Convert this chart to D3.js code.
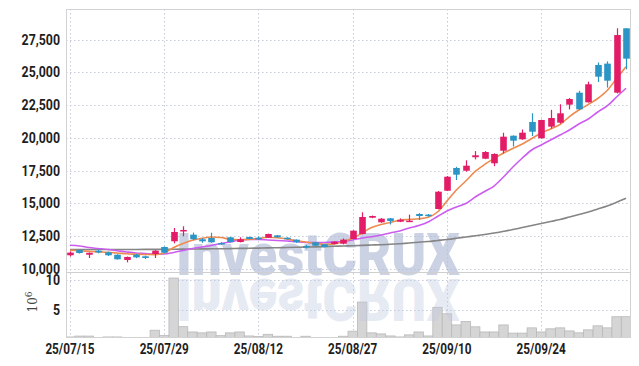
<!DOCTYPE html>
<html>
<head>
<meta charset="utf-8">
<script src="https://cdn.jsdelivr.net/npm/d3@7"></script>
<style>
  body { margin: 0; background: #fff; }
  svg { display: block; }
  text { font-family: Roboto, "DejaVu Sans", sans-serif; }
</style>
</head>
<body>
<div id="chart"></div>
<script>
// trading days shown on the chart
var dates = ["25/07/15","25/07/16","25/07/17","25/07/18","25/07/21","25/07/22","25/07/23","25/07/24","25/07/25","25/07/28",
  "25/07/29","25/07/30","25/07/31","25/08/01","25/08/04","25/08/05","25/08/06","25/08/07","25/08/08","25/08/11",
  "25/08/12","25/08/13","25/08/14","25/08/18","25/08/19","25/08/20","25/08/21","25/08/22","25/08/25","25/08/26",
  "25/08/27","25/08/28","25/08/29","25/09/01","25/09/02","25/09/03","25/09/04","25/09/05","25/09/08","25/09/09",
  "25/09/10","25/09/11","25/09/12","25/09/15","25/09/16","25/09/17","25/09/18","25/09/19","25/09/22","25/09/23",
  "25/09/24","25/09/25","25/09/26","25/09/29","25/09/30","25/10/01","25/10/02","25/10/10","25/10/13","25/10/14"];

var opens  = [11050,11450,11090,11400,11270,11090,10690,11090,10970,11145,
  11680,12115,12880,12620,12270,12366,11985,12420,12060,12440,
  12390,12390,12570,12390,12240,11760,12040,11885,11910,11930,
  12290,12670,13915,13565,13870,13610,13640,14200,14150,14580,
  15975,17710,17500,18530,18420,18070,19030,20175,19900,21220,
  19980,20865,21170,22545,23460,22725,25575,25675,23460,28375];
var highs  = [11350,11500,11260,11480,11320,11130,10950,11150,11020,11440,
  11720,13130,13260,12780,12350,12770,12050,12450,12420,12480,
  12480,12700,12600,12420,12260,11840,12070,11920,12110,12330,
  12960,14330,14080,13880,13900,13860,14150,14260,14200,15950,
  17100,17800,18300,19000,19000,18830,20400,20200,20650,21890,
  21400,22150,22575,23050,23600,24300,25760,25850,28375,28375];
var lows   = [10950,11180,10840,11200,10990,10720,10510,10830,10760,10840,
  11200,11960,12500,12200,12000,12000,11850,12030,12030,12260,
  12230,12370,12400,12250,11990,11560,11740,11650,11880,11880,
  12270,12640,13880,13530,13400,13580,13600,13740,14000,14550,
  15950,16795,17430,18370,18390,17850,18820,19350,19860,20150,
  19950,20720,21100,22180,22150,22700,24275,23850,23400,25245];
var closes = [11250,11220,11240,11270,11050,10740,10920,10890,10840,11400,
  11245,12825,12980,12270,12115,12040,11885,12060,12270,12290,
  12270,12670,12420,12270,12040,11660,11780,11680,12085,12240,
  12925,13970,14045,13840,13665,13760,13690,14045,14050,15900,
  17045,17200,17885,18680,18930,18780,20100,19795,20405,20480,
  21375,21525,21885,22975,22190,24100,24680,24375,27860,26055];

// volume, shares
var volumes = [350000,500000,500000,180000,350000,350000,180000,150000,150000,1500000,
  620000,10400000,2100000,1200000,1050000,1200000,570000,1050000,1200000,520000,
  420000,800000,470000,470000,160000,470000,160000,160000,160000,470000,
  1330000,6300000,1050000,870000,520000,350000,700000,1200000,520000,5400000,
  4300000,2400000,3000000,2080000,1200000,1200000,2400000,1000000,1000000,1900000,
  1200000,1740000,1900000,1380000,1050000,1560000,2250000,1900000,3800000,3800000];

// moving averages as drawn
var ma5 = [11428,11390,11350,11310,11275,11220,11160,11130,11105,11100,
  11220,11640,11945,12190,12345,12445,12405,12265,12230,12265,
  12330,12420,12380,12290,12155,12060,11960,11885,11910,12100,
  12345,12750,13170,13400,13550,13720,13780,13830,13945,14350,
  15190,16030,16720,17445,17980,18435,18855,19200,19545,19960,
  20380,20690,21030,21640,22140,22560,23015,23625,24545,25445];
var ma20 = [11810,11755,11640,11565,11490,11395,11300,11220,11185,11145,
  11145,11260,11410,11565,11680,11795,11945,12060,12215,12250,
  12250,12215,12175,12140,12100,12025,12010,12025,12060,12100,
  12215,12365,12465,12595,12750,12900,13130,13320,13590,14010,
  14430,14735,15000,15495,15915,16335,17025,17785,18475,19085,
  19465,19850,20230,20610,21070,21450,21985,22445,23130,23795];
var ma60 = [11490,11490,11490,11490,11490,11490,11490,11490,11496,11496,
  11504,11511,11519,11527,11534,11542,11550,11557,11573,11580,
  11596,11611,11626,11641,11657,11672,11687,11710,11733,11756,
  11779,11802,11832,11855,11886,11931,11985,12038,12099,12176,
  12252,12344,12443,12535,12634,12748,12878,13015,13168,13321,
  13473,13626,13779,13970,14160,14351,14580,14809,15092,15397];

var priceTicks = [10000,12500,15000,17500,20000,22500,25000,27500];
var volumeTicks = [5000000,10000000];
var xTickLabels = ["25/07/15","25/07/29","25/08/12","25/08/27","25/09/10","25/09/24"];

var width = 639, height = 366;
var plotL = 66, plotR = 630, plotT = 9, plotSplit = 272, plotB = 337;

var upColor = "#e31c67", downColor = "#2b95c6";

var svg = d3.select("#chart").append("svg")
    .attr("width", width)
    .attr("height", height);

var defs = svg.append("defs");
defs.append("clipPath").attr("id", "price-clip")
  .append("rect").attr("x", plotL).attr("y", plotT).attr("width", plotR - plotL).attr("height", plotSplit - plotT);
defs.append("clipPath").attr("id", "vol-clip")
  .append("rect").attr("x", plotL).attr("y", plotSplit).attr("width", plotR - plotL).attr("height", plotB - plotSplit);

var x = d3.scalePoint()
    .domain(dates)
    .range([plotL, plotR])
    .padding(0.424);
var step = x.step();

var y = d3.scaleLinear()
    .domain([9771, 29847])
    .range([plotSplit, plotT]);

var yv = d3.scaleLinear()
    .domain([0, 11430000])
    .range([339, plotSplit]);

// grid
var grid = svg.append("g").attr("class", "grid")
    .attr("stroke", "#c5cbd9")
    .attr("stroke-dasharray", "1.5,2.5");

grid.selectAll(".hp").data(priceTicks).enter().append("line")
    .attr("x1", plotL).attr("x2", plotR)
    .attr("y1", function(d){ return Math.round(y(d)) + 0.5; })
    .attr("y2", function(d){ return Math.round(y(d)) + 0.5; });

grid.selectAll(".hv").data(volumeTicks).enter().append("line")
    .attr("x1", plotL).attr("x2", plotR)
    .attr("y1", function(d){ return Math.round(yv(d)) + 0.5; })
    .attr("y2", function(d){ return Math.round(yv(d)) + 0.5; });

grid.selectAll(".vx").data(xTickLabels).enter().append("line")
    .attr("x1", function(d){ return Math.round(x(d)) + 0.5; })
    .attr("x2", function(d){ return Math.round(x(d)) + 0.5; })
    .attr("y1", plotT).attr("y2", plotB);

// volume bars
svg.append("g").attr("clip-path", "url(#vol-clip)")
  .selectAll("rect").data(dates).enter().append("rect")
    .attr("x", function(d){ return x(d) - step / 2; })
    .attr("width", step)
    .attr("y", function(d, i){ return yv(volumes[i]); })
    .attr("height", function(d, i){ return yv(0) - yv(volumes[i]); })
    .style("fill", "#d5d5d5")
    .style("stroke", "#b9b9b9")
    .style("stroke-width", 0.8);

// watermark
var wm = svg.append("g").attr("pointer-events", "none");
wm.append("text")
    .attr("x", 176).attr("y", 275)
    .attr("textLength", 284)
    .attr("lengthAdjust", "spacingAndGlyphs")
    .style("font-size", "59px")
    .style("font-weight", 900)
    .style("fill", "#b4bfd8")
    .style("opacity", 0.7)
    .text("InvestCRUX");
wm.append("text")
    .attr("x", 176).attr("y", 275)
    .attr("transform", "translate(0,554) scale(1,-1)")
    .attr("textLength", 284)
    .attr("lengthAdjust", "spacingAndGlyphs")
    .style("font-size", "59px")
    .style("font-weight", 900)
    .style("fill", "#c3cbe0")
    .style("opacity", 0.4)
    .text("InvestCRUX");

// moving averages
var price = svg.append("g").attr("clip-path", "url(#price-clip)");

function maLine(values){
    return d3.line()
        .x(function(d, i){ return x(dates[i]); })
        .y(function(d){ return y(d); })
        .curve(d3.curveMonotoneX)(values);
}

price.append("path").attr("d", maLine(ma60))
    .style("fill", "none").style("stroke", "#858585").style("stroke-width", 1.6);
price.append("path").attr("d", maLine(ma20))
    .style("fill", "none").style("stroke", "#cc5cf0").style("stroke-width", 1.6);
price.append("path").attr("d", maLine(ma5))
    .style("fill", "none").style("stroke", "#ee8b50").style("stroke-width", 1.6);

// candles
var candles = price.selectAll(".candle").data(dates).enter().append("g")
    .attr("class", "candle")
    .style("fill", function(d, i){ return closes[i] >= opens[i] ? upColor : downColor; })
    .style("stroke", function(d, i){ return closes[i] >= opens[i] ? upColor : downColor; });

candles.append("line")
    .attr("x1", function(d){ return Math.round(x(d)) + 0.5; })
    .attr("x2", function(d){ return Math.round(x(d)) + 0.5; })
    .attr("y1", function(d, i){ return y(highs[i]); })
    .attr("y2", function(d, i){ return y(lows[i]); })
    .style("stroke-width", 1.2);

candles.append("rect")
    .attr("x", function(d){ return Math.round(x(d)) + 0.5 - 3.3; })
    .attr("width", 6.6)
    .attr("y", function(d, i){ return y(Math.max(opens[i], closes[i])); })
    .attr("height", function(d, i){ return Math.max(1.5, Math.abs(y(opens[i]) - y(closes[i]))); })
    .style("stroke", "none");

// frame
svg.append("rect")
    .attr("x", plotL + 0.5).attr("y", plotT + 0.5)
    .attr("width", plotR - plotL).attr("height", plotB - plotT)
    .style("fill", "none").style("stroke", "#d2d2d2");
svg.append("line")
    .attr("x1", plotL).attr("x2", plotR)
    .attr("y1", plotSplit + 0.5).attr("y2", plotSplit + 0.5)
    .style("stroke", "#cfcfcf");

// condensed labels
function condense(sel, k){
    sel.each(function(){
        var w = this.getComputedTextLength();
        d3.select(this).attr("textLength", w * k).attr("lengthAdjust", "spacingAndGlyphs");
    });
}

var fmt = d3.format(",");
svg.append("g").selectAll("text").data(priceTicks).enter().append("text")
    .attr("x", 60)
    .attr("y", function(d){ return y(d) + 5; })
    .attr("text-anchor", "end")
    .style("font-size", "14px")
    .style("font-weight", 700)
    .style("fill", "#1e1e1e")
    .text(function(d){ return fmt(d); })
    .call(condense, 0.88);

svg.append("g").selectAll("text").data(volumeTicks).enter().append("text")
    .attr("x", 60)
    .attr("y", function(d){ return yv(d) + 5; })
    .attr("text-anchor", "end")
    .style("font-size", "14px")
    .style("font-weight", 700)
    .style("fill", "#1e1e1e")
    .text(function(d){ return d / 1e6; })
    .call(condense, 0.88);

var unit = svg.append("text")
    .attr("transform", "translate(37,302) rotate(-90)")
    .attr("text-anchor", "middle")
    .style("font-family", "'DejaVu Serif', serif")
    .style("font-size", "12px")
    .style("fill", "#444");
unit.append("tspan").text("10");
unit.append("tspan").attr("dy", -5).style("font-size", "9px").text("6");

svg.append("g").selectAll("text").data(xTickLabels).enter().append("text")
    .attr("x", function(d){ return x(d); })
    .attr("y", 354)
    .attr("text-anchor", "middle")
    .style("font-size", "14px")
    .style("font-weight", 700)
    .style("fill", "#1e1e1e")
    .text(function(d){ return d; })
    .call(condense, 0.84);
</script>
</body>
</html>
